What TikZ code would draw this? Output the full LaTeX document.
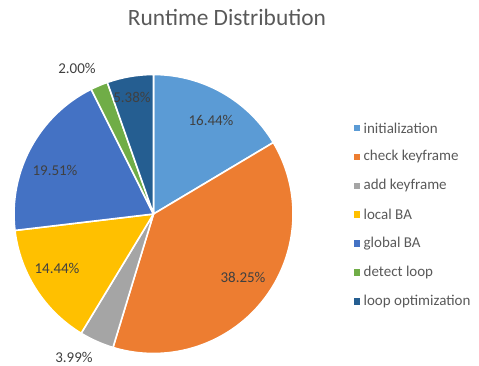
\documentclass[tikz,border=0pt]{standalone}
\usepackage{fontspec}
\setmainfont{Carlito}
\usetikzlibrary{positioning}

\definecolor{initcol}{HTML}{5B9BD5}
\definecolor{checkcol}{HTML}{ED7D31}
\definecolor{addcol}{HTML}{A5A5A5}
\definecolor{localcol}{HTML}{FFC000}
\definecolor{globalcol}{HTML}{4472C4}
\definecolor{detectcol}{HTML}{70AD47}
\definecolor{loopcol}{HTML}{255E91}
\definecolor{labelgray}{HTML}{404040}
\definecolor{textgray}{HTML}{595959}

\begin{document}
\begin{tikzpicture}[
            x=1pt, y=1pt,
            slice/.style={draw=white, line width=1.6pt, line join=round},
            pct/.style={text=labelgray, font=\fontsize{15}{18}\selectfont, inner sep=0pt},
            key/.style={minimum size=6.5pt, inner sep=0pt},
            entry/.style={text=textgray, font=\fontsize{15}{18}\selectfont, anchor=west, inner sep=0pt},
            node distance=3pt and 3pt
        ]
        \useasboundingbox (0,0) rectangle (479,365);

        % title
        \node[text=textgray, font=\fontsize{23.4}{28}\selectfont] (title) at (227,348) {Runtime Distribution};

        % the pie, clockwise from the top
        \coordinate (c) at (153.5,151);
        \filldraw[slice, fill=initcol] (c) -- ++(90:139.5) arc[start angle=90, end angle=30.816, radius=139.5] -- cycle;
        \filldraw[slice, fill=checkcol] (c) -- ++(30.816:139.5) arc[start angle=30.816, end angle=-106.884, radius=139.5] -- cycle;
        \filldraw[slice, fill=addcol] (c) -- ++(-106.884:139.5) arc[start angle=-106.884, end angle=-121.248, radius=139.5] -- cycle;
        \filldraw[slice, fill=localcol] (c) -- ++(-121.248:139.5) arc[start angle=-121.248, end angle=-173.232, radius=139.5] -- cycle;
        \filldraw[slice, fill=globalcol] (c) -- ++(-173.232:139.5) arc[start angle=-173.232, end angle=-243.468, radius=139.5] -- cycle;
        \filldraw[slice, fill=detectcol] (c) -- ++(-243.468:139.5) arc[start angle=-243.468, end angle=-250.668, radius=139.5] -- cycle;
        \filldraw[slice, fill=loopcol] (c) -- ++(-250.668:139.5) arc[start angle=-250.668, end angle=-270, radius=139.5] -- cycle;

        % data labels
        \node[pct] (pinit) at (211,245) {16.44\%};
        \node[pct] (pcheck) at (243,88) {38.25\%};
        \node[pct] (padd) at (74,8) {3.99\%};
        \node[pct] (plocal) at (57,97) {14.44\%};
        \node[pct] (pglobal) at (55,195) {19.51\%};
        \node[pct] (pdetect) at (77,297) {2.00\%};
        \node[pct] (ploop) at (132,268) {5.38\%};

        % legend
        \node[key, fill=initcol] (kinit) at (357,237) {};
        \node[key, fill=checkcol, below=22pt of kinit] (kcheck) {};
        \node[key, fill=addcol, below=22pt of kcheck] (kadd) {};
        \node[key, fill=localcol, below=22pt of kadd] (klocal) {};
        \node[key, fill=globalcol, below=22pt of klocal] (kglobal) {};
        \node[key, fill=detectcol, below=22pt of kglobal] (kdetect) {};
        \node[key, fill=loopcol, below=22pt of kdetect] (kloop) {};

        \node[entry, right=of kinit] (linit) {initialization};
        \node[entry, right=of kcheck] (lcheck) {check keyframe};
        \node[entry, right=of kadd] (ladd) {add keyframe};
        \node[entry, right=of klocal] (llocal) {local BA};
        \node[entry, right=of kglobal] (lglobal) {global BA};
        \node[entry, right=of kdetect] (ldetect) {detect loop};
        \node[entry, right=of kloop] (lloop) {loop optimization};
    \end{tikzpicture}
\end{document}
